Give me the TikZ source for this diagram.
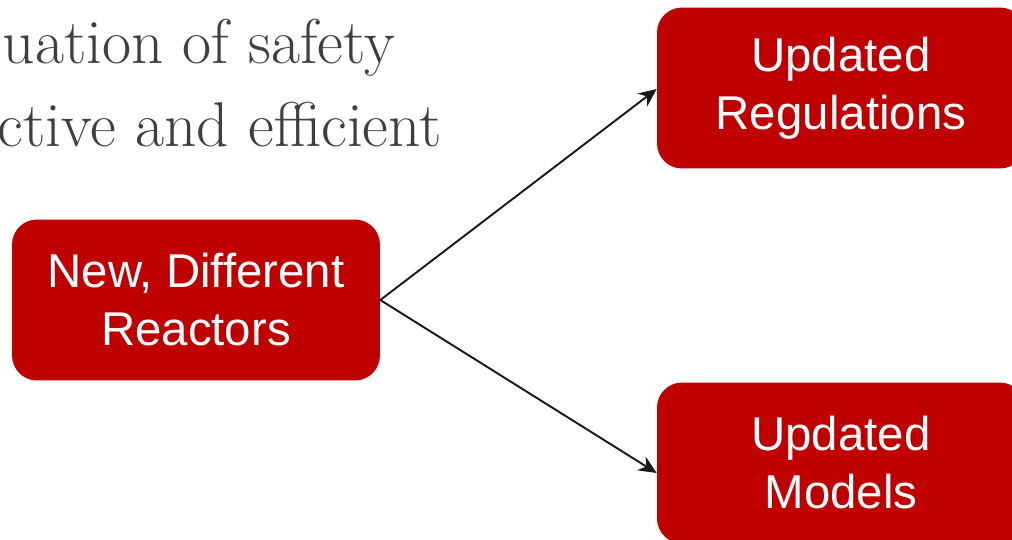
\documentclass[tikz,border=0pt]{standalone}
\usepackage{fontspec}
\setsansfont{Liberation Sans}
\usetikzlibrary{arrows.meta}
\usetikzlibrary{positioning}
\definecolor{boxred}{HTML}{C00000}
\definecolor{txtgray}{HTML}{3F3F3F}

\tikzset{
    redbox/.style={fill=boxred, rounded corners=0.5cm, minimum width=7.36cm, minimum height=3.22cm,
        text=white, align=center, font=\sffamily\fontsize{27}{33}\selectfont},
    slidetext/.style={anchor=base east, text=txtgray, font=\fontsize{36}{40}\selectfont, inner sep=0pt},
    flowarrow/.style={-{Stealth[length=0.36cm,width=0.32cm]}, line width=1.1pt, draw=black!90}
}

\begin{document}
\begin{tikzpicture}[x=0.02cm, y=-0.02cm]
    \useasboundingbox (0,0) rectangle (1012,539);
    \clip (0,0) rectangle (1012,539);
    % cut-off text of the slide
    \node[slidetext] (line1) at (395,63) {uation of\ safety};
    \node[slidetext] (line2) at (442,146) {ctive and efficient};
    % boxes
    \node[redbox] (reactors) at (196,300) {New, Different\\Reactors};
    \node[redbox] (regs) at (841,88) {Updated\\Regulations};
    \node[redbox] (models) at (841,463) {Updated\\Models};
    % arrows
    \draw[flowarrow] (reactors.east) -- ([yshift=-0.02cm]regs.west);
    \draw[flowarrow] (reactors.east) -- ([yshift=-0.2cm]models.west);
\end{tikzpicture}
\end{document}
